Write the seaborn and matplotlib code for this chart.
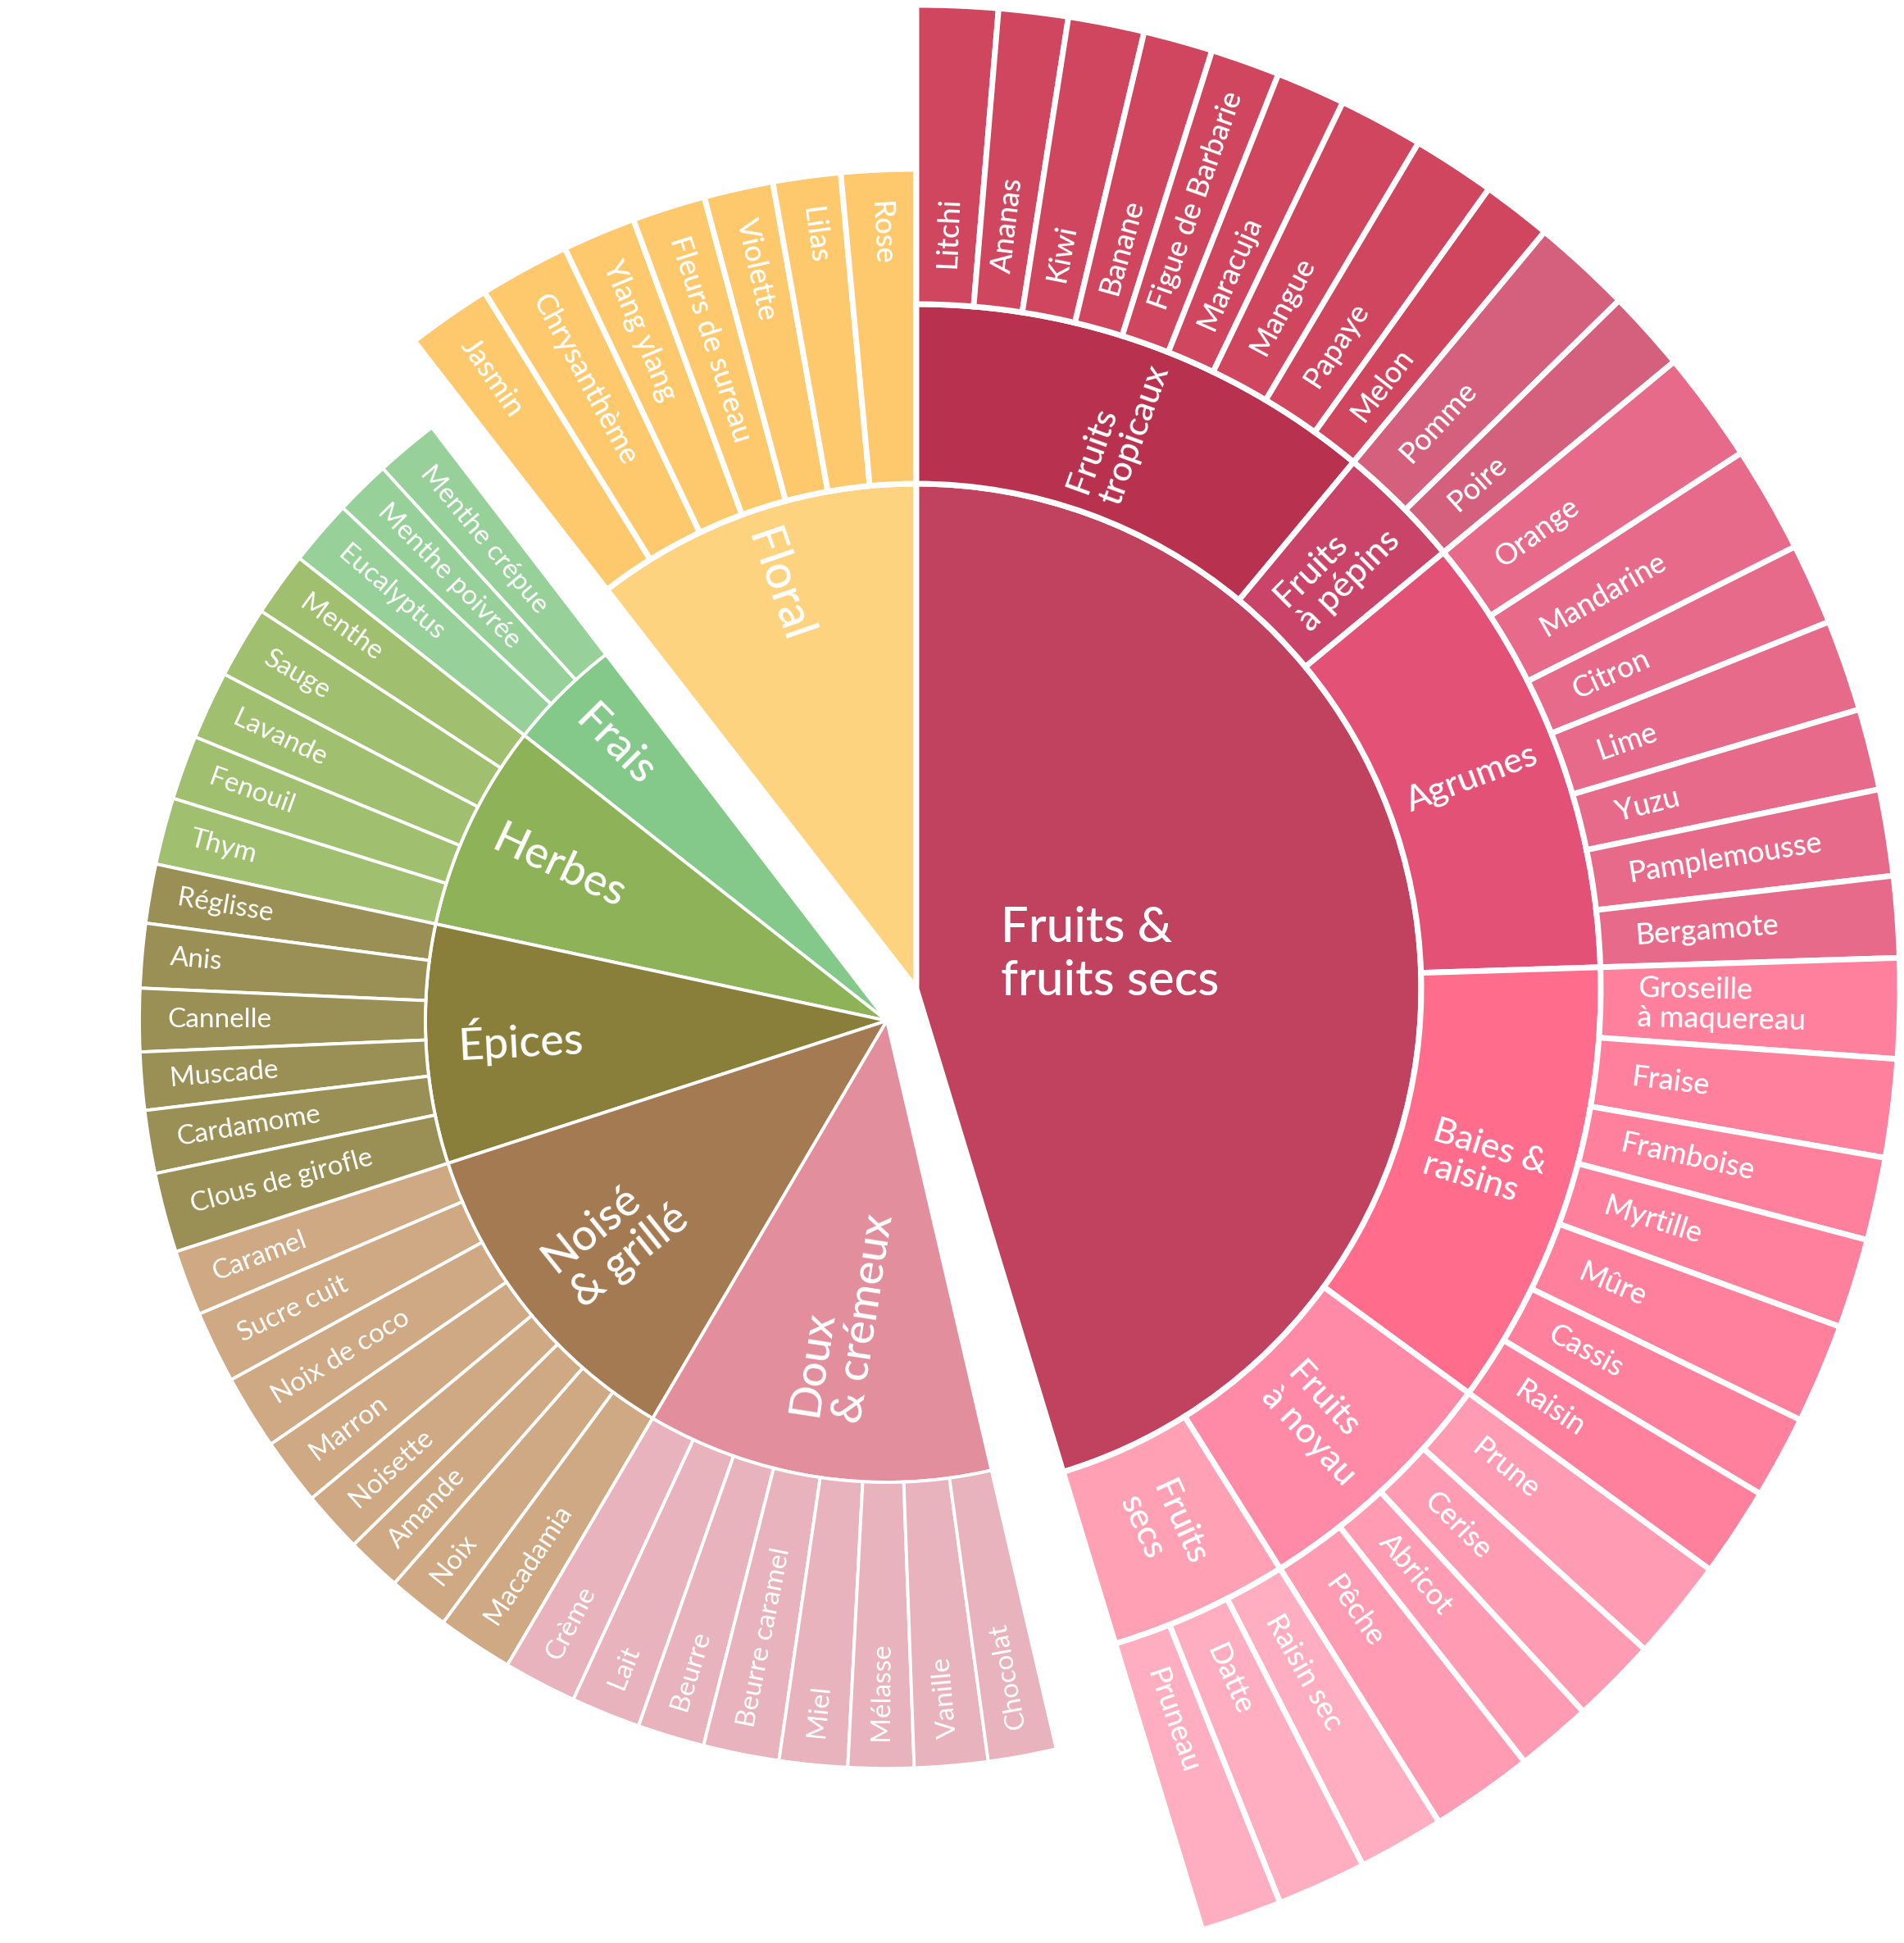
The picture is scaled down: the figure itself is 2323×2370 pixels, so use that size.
import numpy as np
import seaborn as sns
import matplotlib.pyplot as plt
from matplotlib.patches import Wedge

# ---- groupe A : Floral + Fruits (sens horaire depuis le bord gauche de Floral)
floral_leaves = ['Jasmin', 'Chrysanthème', 'Ylang ylang', 'Fleurs de sureau', 'Violette', 'Lilas', 'Rose']
floral_widths = [6.0, 6.4, 5.2, 5.2, 4.9, 4.8, 5.3]

fruit_subs = ['Fruits\ntropicaux', 'Fruits\nà pépins', 'Agrumes', 'Baies &\nraisins', 'Fruits\nà noyau', 'Fruits\nsecs']
fruit_leaves = [
    ['Litchi', 'Ananas', 'Kiwi', 'Banane', 'Figue de Barbarie', 'Maracuja', 'Mangue', 'Papaye', 'Melon'],
    ['Pomme', 'Poire'],
    ['Orange', 'Mandarine', 'Citron', 'Lime', 'Yuzu', 'Pamplemousse', 'Bergamote'],
    ['Groseille\nà maquereau', 'Fraise', 'Framboise', 'Myrtille', 'Mûre', 'Cassis', 'Raisin'],
    ['Prune', 'Cerise', 'Abricot', 'Pêche'],
    ['Raisin sec', 'Datte', 'Pruneau'],
]
fruit_widths = [
    [4.8, 4.1, 4.5, 4.1, 4.1, 4.1, 5.0, 4.9, 4.1],
    [5.9, 4.8],
    [6.6, 6.3, 4.8, 5.4, 4.8, 5.1, 4.8],
    [5.9, 5.8, 4.9, 5.3, 5.9, 4.9, 5.3],
    [6.0, 5.1, 4.5, 6.1],
    [5.1, 5.3, 4.8],
]

# ---- groupe B : sens anti-horaire depuis le haut de Frais
cats_b = ['Frais', 'Herbes', 'Épices', 'Noisé\n& grillé', 'Doux\n& crémeux']
leaves_b = [
    ['Menthe crépue', 'Menthe poivrée', 'Eucalyptus'],
    ['Menthe', 'Sauge', 'Lavande', 'Fenouil', 'Thym'],
    ['Réglisse', 'Anis', 'Cannelle', 'Muscade', 'Cardamome', 'Clous de girofle'],
    ['Caramel', 'Sucre cuit', 'Noix de coco', 'Marron', 'Noisette', 'Amande', 'Noix', 'Macadamia'],
    ['Crème', 'Lait', 'Beurre', 'Beurre caramel', 'Miel', 'Mélasse', 'Vanille', 'Chocolat'],
]
widths_b = [
    [4.9, 4.3, 5.1],
    [5.0, 5.6, 5.3, 5.0, 5.2],
    [4.6, 5.0, 4.9, 4.5, 4.9, 6.2],
    [5.1, 5.6, 5.8, 5.2, 4.8, 4.3, 4.8, 5.9],
    [5.7, 5.4, 5.2, 5.9, 5.3, 5.1, 5.7, 5.3],
]

# ---- couleurs
fruit_color = '#C0425F'
fruit_sub_colors = ['#B8324F', '#C94468', '#E35177', '#FF6C8C', '#FF8AA8', '#FFA0B4']
fruit_leaf_colors = ['#CF465E', '#D4607E', '#E86A8B', '#FF809C', '#FF9BB2', '#FFADC0']
floral_color, floral_leaf_color = '#FED37F', '#FEC96C'
cat_colors_b = ['#84C98A', '#8EB257', '#897F3A', '#A47A52', '#E28E9C']
leaf_colors_b = ['#97D199', '#A0BF6F', '#9A9055', '#CEA983', '#E8B3BD']

# ---- mise en page (pixels)
W, H = 2323, 2370
c_a = (1118, H - 1206)
c_b = (1082, H - 1245)
start_a, start_b = 127.8, 127.5
r_a = dict(center=616, sub=835, leaf=1200, floral_leaf=1000)
r_b = dict(cat=563, leaf=912)
lw_a, lw_b = 5.0, 2.8
label_r_b = [472, 442, 448, 425, 363]

sns.set_theme(style='white')
plt.rcParams['font.family'] = ['Lato', 'DejaVu Sans']

fig = plt.figure(figsize=(W / 100, H / 100), dpi=100)
ax = fig.add_axes([0, 0, 1, 1])
ax.set_xlim(0, W)
ax.set_ylim(0, H)
ax.set_aspect('equal')
ax.axis('off')


def spans(widths, start, sign):
    edges = start + sign * np.concatenate([[0], np.cumsum(widths)])
    return list(zip(edges[:-1], edges[1:]))


def wedge(c, r_in, r_out, a0, a1, color, lw):
    t1, t2 = sorted((a0, a1))
    ax.add_patch(Wedge(c, r_out, t1, t2, width=r_out - r_in, facecolor=color,
                       edgecolor='white', linewidth=lw))


def polar(c, r, ang):
    t = np.deg2rad(ang)
    return c[0] + r * np.cos(t), c[1] + r * np.sin(t)


def leaf_label(c, r_in, r_out, mid, text, flip, size, pad, weight='normal'):
    if flip:
        x, y = polar(c, r_out - pad, mid)
        rot = mid - 180
    else:
        x, y = polar(c, r_in + pad, mid)
        rot = mid
    ax.text(x, y, text, rotation=rot, rotation_mode='anchor', ha='left', va='center',
            color='white', fontsize=size, fontweight=weight, linespacing=1.1)


def mid_label(c, r, mid, text, rot, size):
    x, y = polar(c, r, mid)
    ax.text(x, y, text, rotation=rot, rotation_mode='anchor', ha='center', va='center',
            multialignment='left', color='white', fontsize=size, fontweight='medium',
            linespacing=1.15)


# Floral
fl_spans = spans(floral_widths, start_a, -1)
wedge(c_a, 0, r_a['center'], fl_spans[0][0], fl_spans[-1][1], floral_color, lw_a)
for (a0, a1), name in zip(fl_spans, floral_leaves):
    wedge(c_a, r_a['center'], r_a['floral_leaf'], a0, a1, floral_leaf_color, lw_a)
    leaf_label(c_a, r_a['center'], r_a['floral_leaf'], (a0 + a1) / 2, name, True, 26, 38, 'medium')
fl_mid = (fl_spans[0][0] + fl_spans[-1][1]) / 2
mid_label(c_a, 520, fl_mid, 'Floral', fl_mid - 180, 41)

# Fruits
fruit_start = fl_spans[-1][1]
sub_spans = spans([sum(w) for w in fruit_widths], fruit_start, -1)
wedge(c_a, 0, r_a['center'], sub_spans[0][0], sub_spans[-1][1], fruit_color, lw_a)
for (s0, s1), sub, leaves, widths, sc, lc in zip(sub_spans, fruit_subs, fruit_leaves,
                                                 fruit_widths, fruit_sub_colors, fruit_leaf_colors):
    wedge(c_a, r_a['center'], r_a['sub'], s0, s1, sc, lw_a)
    sm = (s0 + s1) / 2
    mid_label(c_a, (r_a['center'] + r_a['sub']) / 2, sm, sub, sm, 31)
    for (a0, a1), name in zip(spans(widths, s0, -1), leaves):
        wedge(c_a, r_a['sub'], r_a['leaf'], a0, a1, lc, lw_a)
        leaf_label(c_a, r_a['sub'], r_a['leaf'], (a0 + a1) / 2, name, False, 26, 45, 'medium')
x, y = polar(c_a, 240, 10)
ax.text(x, y, 'Fruits &\nfruits secs', ha='center', va='center', multialignment='left',
        color='white', fontsize=43, fontweight='medium', linespacing=1.25)

# groupe B
cat_spans = spans([sum(w) for w in widths_b], start_b, 1)
for (c0, c1), cat, leaves, widths, cc, lc, lr in zip(cat_spans, cats_b, leaves_b, widths_b,
                                                     cat_colors_b, leaf_colors_b, label_r_b):
    wedge(c_b, 0, r_b['cat'], c0, c1, cc, lw_b)
    cm = (c0 + c1) / 2
    mid_label(c_b, lr, cm, cat, cm - 180, 39)
    for (a0, a1), name in zip(spans(widths, c0, 1), leaves):
        wedge(c_b, r_b['cat'], r_b['leaf'], a0, a1, lc, lw_b)
        leaf_label(c_b, r_b['cat'], r_b['leaf'], (a0 + a1) / 2, name, True, 24, 34)

fig.savefig('out.png', dpi=100, facecolor='white')
